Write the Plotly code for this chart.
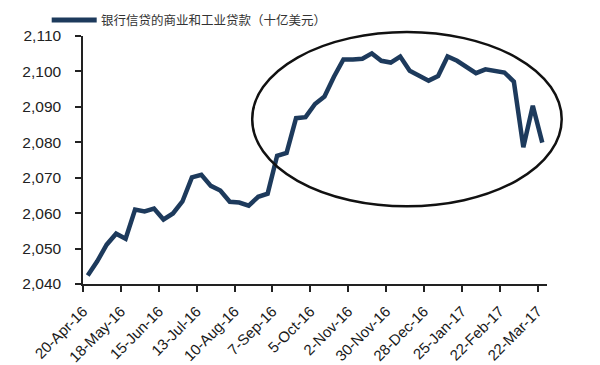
import plotly.graph_objects as go

# Weekly C&I loans (billion USD), 20-Apr-16 .. 22-Mar-17
values = [
    2042.4, 2046.4, 2051.1, 2054.2, 2052.8, 2061.0, 2060.5, 2061.3, 2058.2, 2059.9,
    2063.3, 2070.1, 2070.8, 2067.7, 2066.4, 2063.2, 2063.0, 2062.1, 2064.6, 2065.5,
    2076.2, 2077.0, 2086.8, 2087.1, 2090.8, 2092.9, 2098.5, 2103.4, 2103.4, 2103.6,
    2105.1, 2103.0, 2102.5, 2104.2, 2100.2, 2098.7, 2097.4, 2098.7, 2104.2, 2103.0,
    2101.4, 2099.5, 2100.6, 2100.1, 2099.7, 2097.1, 2078.6, 2090.3, 2079.9,
]
week_index = list(range(len(values)))

tick_labels = [
    "20-Apr-16", "18-May-16", "15-Jun-16", "13-Jul-16", "10-Aug-16", "7-Sep-16",
    "5-Oct-16", "2-Nov-16", "30-Nov-16", "28-Dec-16", "25-Jan-17", "22-Feb-17",
    "22-Mar-17",
]
tick_weeks = [0, 4, 8, 12, 16, 20, 24, 28, 32, 36, 40, 44, 48]

y_ticks = [2040, 2050, 2060, 2070, 2080, 2090, 2100, 2110]
series_name = "银行信贷的商业和工业贷款（十亿美元）"

LINE = "#1d3a5c"
FONT = "Arial, Liberation Sans, Noto Sans CJK SC, sans-serif"

fig = go.Figure()
fig.add_trace(go.Scatter(
    x=week_index, y=values, mode="lines", name=series_name,
    line=dict(color=LINE, width=4.5), showlegend=False,
))

# category-style axis: ticks between categories
fig.update_xaxes(
    range=[-0.5, len(values) - 0.5],
    tickvals=[w - 0.5 for w in tick_weeks],
    ticktext=tick_labels,
    tickangle=-45,
    ticks="outside", ticklen=6, tickwidth=1.5, tickcolor="#222",
    showline=True, linecolor="#222", linewidth=1.5,
    showgrid=False, zeroline=False,
    automargin=False,
    ticklabelstandoff=5,
    tickfont=dict(family=FONT, size=15, color="#1a1a1a"),
)
fig.update_yaxes(
    range=[2040, 2110],
    tickvals=y_ticks,
    tickformat=",d",
    ticks="outside", ticklen=6, tickwidth=1.5, tickcolor="#222",
    showline=True, linecolor="#222", linewidth=1.5,
    showgrid=False, zeroline=False,
    automargin=False,
    ticklabelstandoff=11,
    tickfont=dict(family=FONT, size=15.5, color="#222"),
)

# plot area: x 83.3..547.3 px, y 35.5..284.5 px
L, R, T, B = 83.3, 547.3, 35.5, 284.5
W, H = R - L, B - T

def px(x):
    return (x - L) / W

def py(y):
    return (B - y) / H

# highlight ellipse
fig.add_shape(type="circle", xref="paper", yref="paper",
              x0=px(252.5), x1=px(562), y0=py(206.5), y1=py(31.5),
              line=dict(color="#111", width=2.5))

# legend (manual)
fig.add_shape(type="line", xref="paper", yref="paper",
              x0=px(52), x1=px(97), y0=py(19.5), y1=py(19.5),
              line=dict(color=LINE, width=5))
fig.add_annotation(xref="paper", yref="paper", x=px(99), y=py(19.5),
                   text=series_name, showarrow=False,
                   xanchor="left", yanchor="middle",
                   font=dict(family=FONT, size=12.5, color="#333"))

fig.update_layout(
    width=600, height=365,
    margin=dict(l=L, r=600 - R, t=T, b=365 - B, pad=0, autoexpand=False),
    paper_bgcolor="white", plot_bgcolor="white",
    font=dict(family=FONT),
)

fig.write_html("out.html",
               config={"displayModeBar": False},
               post_script="document.body.style.margin='0';document.body.style.overflow='hidden';")
